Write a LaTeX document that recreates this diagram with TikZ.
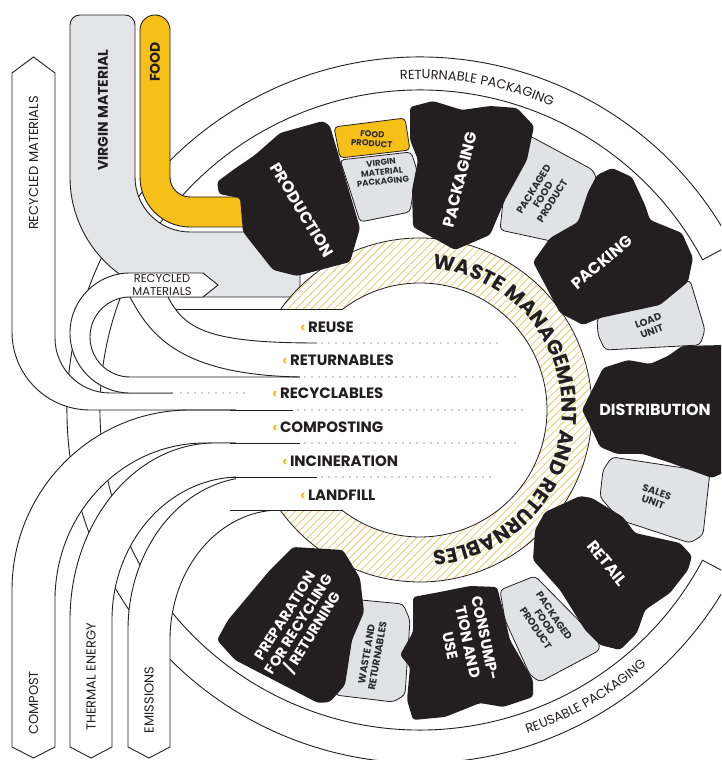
\documentclass[tikz,border=0pt]{standalone}
\usepackage{fontspec}
\setmainfont{Poppins}
\usetikzlibrary{patterns.meta,decorations.text}
\definecolor{foodyellow}{RGB}{246,192,24}
\definecolor{virgingrey}{RGB}{227,228,230}
\definecolor{boxgrey}{RGB}{225,226,229}
\definecolor{inkblack}{RGB}{35,31,32}
\definecolor{hatchyellow}{RGB}{234,200,105}
\definecolor{labelgrey}{RGB}{45,45,48}
\begin{document}
\begin{tikzpicture}[x=1pt,y=1pt,line width=0.9pt,color=inkblack,
  stage/.style={fill=inkblack,rounded corners=3pt},
  stagetext/.style={text=white,font=\fontsize{16}{17}\selectfont\bfseries,align=center,inner sep=0pt},
  greybox/.style={fill=boxgrey,draw=inkblack,line width=0.8pt,rounded corners=4pt},
  boxtext/.style={text=labelgrey,font=\fontsize{10}{11}\selectfont\bfseries,align=center,inner sep=0pt},
  flowtext/.style={text=inkblack,font=\fontsize{13}{14}\selectfont,inner sep=0pt},
  wastetext/.style={text=inkblack,font=\fontsize{15}{16}\selectfont\bfseries,anchor=west,inner sep=0pt},
  dots/.style={draw=labelgrey,line width=1.3pt,line cap=round,dash pattern=on 0pt off 7pt}]
\useasboundingbox (0,0) rectangle (721,760);
\clip (0,0) rectangle (721,760);
\coordinate (C) at (420,350);

\filldraw[fill=white] ([shift={(28:353)}]C) arc[start angle=28,end angle=332,radius=353] -- ([shift={(332:320)}]C) arc[start angle=332,end angle=28,radius=320] -- cycle;

\filldraw[fill=virgingrey] (70,583) arc[start angle=180,end angle=270,radius=120] -- (300,463) -- (300,528) -- (190,528) arc[start angle=270,end angle=180,radius=55] -- (135,735) arc[start angle=0,end angle=90,radius=10] -- (80,745) arc[start angle=90,end angle=180,radius=10] -- cycle;
\filldraw[fill=foodyellow] (140,583) arc[start angle=180,end angle=270,radius=50] -- (260,533) -- (260,563) -- (190,563) arc[start angle=270,end angle=180,radius=20] -- (170,730) arc[start angle=0,end angle=180,radius=15] -- cycle;

\filldraw[fill=white] (12,13) -- (12,170) arc[start angle=180,end angle=90,x radius=178,y radius=180] -- (300,350) -- (300,317) -- (205,317) arc[start angle=90,end angle=180,x radius=150,y radius=157] -- (55,13) -- (33.5,2) -- cycle;
\filldraw[fill=white] (70,13) -- (70,140) arc[start angle=180,end angle=90,x radius=145,y radius=177] -- (300,317) -- (300,283) -- (240,283) arc[start angle=90,end angle=180,x radius=128,y radius=143] -- (112,13) -- (91,2) -- cycle;
\filldraw[fill=white] (128,13) -- (128,130) arc[start angle=180,end angle=90,x radius=127,y radius=153] -- (300,283) -- (300,250) -- (280,250) arc[start angle=90,end angle=180,x radius=110,y radius=130] -- (170,13) -- (149,2) -- cycle;

\fill[white] (12,687) -- (12,428) arc[start angle=180,end angle=270,radius=78] -- (173,350) -- (173,367) -- (110,367) arc[start angle=270,end angle=180,radius=55] -- (55,687) -- (33.5,703) -- cycle;
\draw (173,367) -- (110,367) arc[start angle=270,end angle=180,radius=55] -- (55,687) -- (33.5,703) -- (12,687) -- (12,428) arc[start angle=180,end angle=270,radius=78] -- (300,350);

\fill[white,even odd rule] (C) circle[radius=172] (C) circle[radius=127];
\fill[pattern={Lines[angle=45,distance=5.5pt,line width=0.8pt]},pattern color=hatchyellow,even odd rule] (C) circle[radius=172] (C) circle[radius=127];
\fill[white] (236,250) rectangle (420,451);
\draw[line width=0.8pt] ([shift={(127.3:127)}]C) arc[start angle=127.3,end angle=-128.1,radius=127];
\draw[line width=0.8pt] ([shift={(144:172)}]C) arc[start angle=144,end angle=-144.4,radius=172];

\fill[white] (218,475) -- (203,487) -- (130,487) arc[start angle=90,end angle=270,radius=60] -- (173,367) -- (173,383) -- (130,383) arc[start angle=270,end angle=90,radius=40] -- (203,463) -- cycle;
\draw (173,367) -- (130,367) arc[start angle=270,end angle=90,radius=60] -- (203,487) -- (218,475) -- (203,463) -- (130,463) arc[start angle=90,end angle=270,radius=40] -- (300,383);
\draw (130,463) .. controls (150,425) and (180,385) .. (300,383);
\draw (168,463) .. controls (185,430) and (210,417) .. (317,417);
\draw (176,451) -- (343,451);
\draw (230,350) -- (293,350);
\draw (230,317) -- (300,317);
\draw (230,283) -- (317,283);
\draw (230,250) -- (343,250);

\draw[dots] (322,417) -- (500,417);
\draw[dots] (305,383) -- (517,383);
\draw[dots] (298,350) -- (523,350);
\draw[dots] (305,317) -- (517,317);
\draw[dots] (322,283) -- (497,283);
\draw[dots] (181,367) -- (248,367);

\node[wastetext] (reuse) at (300,433) {\textcolor{foodyellow}{‹}\,REUSE};
\node[wastetext] (returnables) at (282,400) {\textcolor{foodyellow}{‹}\,RETURNABLES};
\node[wastetext] (recyclables) at (272,367) {\textcolor{foodyellow}{‹}\,RECYCLABLES};
\node[wastetext] (composting) at (272,333) {\textcolor{foodyellow}{‹}\,COMPOSTING};
\node[wastetext] (incineration) at (282,299) {\textcolor{foodyellow}{‹}\,INCINERATION};
\node[wastetext] (landfill) at (300,265) {\textcolor{foodyellow}{‹}\,LANDFILL};

\node[flowtext,align=center,font=\fontsize{11.5}{12.5}\selectfont] (recycledin) at (162,475) {RECYCLED\\MATERIALS};
\node[flowtext,rotate=90] (recycledout) at (33.5,597) {RECYCLED MATERIALS};
\node[flowtext,rotate=90] (compost) at (33.5,57) {COMPOST};
\node[flowtext,rotate=90] (thermal) at (91,83) {THERMAL ENERGY};
\node[flowtext,rotate=90] (emissions) at (149,60) {EMISSIONS};
\node[flowtext,rotate=90,font=\fontsize{14}{15}\selectfont\bfseries] (virgin) at (103,650) {VIRGIN MATERIAL};
\node[flowtext,rotate=90,font=\fontsize{14}{15}\selectfont\bfseries] (food) at (155,698) {FOOD};

\filldraw[greybox,fill=foodyellow] (334,633) -- (405,642) -- (410,610) -- (340,602) -- cycle;
\filldraw[greybox] (340,600) -- (411,608) -- (417,590) -- (410,548) -- (360,538) -- (350,570) -- cycle;
\filldraw[greybox] (510,623) -- (530,624) -- (593,590) -- (597,580) -- (575,525) -- (560,517) -- (500,530) -- cycle;
\filldraw[greybox] (597,442) -- (690,480) -- (705,430) -- (700,415) -- (605,410) -- (598,425) -- cycle;
\filldraw[greybox] (603,290) -- (612,303) -- (710,288) -- (703,225) -- (690,217) -- (620,240) -- (600,263) -- cycle;
\filldraw[greybox] (500,170) -- (535,184) -- (598,120) -- (600,110) -- (540,78) -- (530,85) -- (505,140) -- cycle;
\filldraw[greybox] (340,162) -- (403,156) -- (410,140) -- (405,65) -- (393,58) -- (335,65) -- cycle;

\node[boxtext,rotate=-4,font=\fontsize{8.5}{9}\selectfont\bfseries] (foodproduct) at (372,621) {FOOD\\PRODUCT};
\node[boxtext,rotate=6,font=\fontsize{8.5}{9.5}\selectfont\bfseries] (virginpack) at (382,588) {VIRGIN\\MATERIAL\\PACKAGING};
\node[boxtext,rotate=58] (packagedtop) at (543,565) {PACKAGED\\FOOD\\PRODUCT};
\node[boxtext,rotate=20] (loadunit) at (650,434) {LOAD\\UNIT};
\node[boxtext,rotate=-20] (salesunit) at (655,263) {SALES\\UNIT};
\node[boxtext,rotate=-56] (packagedbottom) at (545,138) {PACKAGED\\FOOD\\PRODUCT};
\node[boxtext,rotate=80] (wasteret) at (372,105) {WASTE AND\\RETURNABLES};

\fill[stage] (217,578) -- (233,590) -- (255,605) -- (280,627) -- (323,639) -- (330,634) -- (340,600) -- (360,532) -- (350,498) -- (297,484) -- (273,490) -- (243,528) -- (240,562) -- (219,566) -- cycle;
\fill[stage] (410,653) -- (433,659) -- (462,650) -- (490,654) -- (517,652) -- (534,634) -- (527,600) -- (505,560) -- (490,525) -- (455,510) -- (437,520) -- (413,533) -- (412,570) -- (418,600) -- (410,620) -- cycle;
\fill[stage] (597,585) -- (612,592) -- (632,583) -- (645,555) -- (650,540) -- (682,527) -- (693,502) -- (688,478) -- (660,455) -- (600,442) -- (583,435) -- (560,447) -- (533,498) -- (550,522) -- (578,538) -- (588,568) -- cycle;
\fill[stage] (582,350) -- (592,370) -- (603,392) -- (628,400) -- (650,396) -- (668,404) -- (682,414) -- (725,415) -- (725,288) -- (712,282) -- (668,298) -- (643,306) -- (617,306) -- (600,313) -- (592,330) -- cycle;
\fill[stage] (545,248) -- (580,264) -- (592,262) -- (623,243) -- (635,227) -- (680,217) -- (692,204) -- (688,190) -- (670,167) -- (645,150) -- (637,127) -- (620,110) -- (600,115) -- (585,130) -- (560,170) -- (533,200) -- (535,230) -- cycle;
\fill[stage] (413,163) -- (440,168) -- (470,174) -- (497,173) -- (503,150) -- (510,120) -- (533,80) -- (533,63) -- (503,53) -- (480,57) -- (445,43) -- (413,40) -- (407,60) -- (410,93) -- (400,105) -- (413,128) -- cycle;
\fill[stage] (293,213) -- (343,210) -- (360,182) -- (364,148) -- (352,120) -- (345,75) -- (330,58) -- (318,57) -- (235,100) -- (217,120) -- (228,140) -- (270,190) -- cycle;

\node[stagetext,rotate=-59] (production) at (302,550) {PRODUCTION};
\node[stagetext,rotate=76] (packaging) at (460,580) {PACKAGING};
\node[stagetext,rotate=40] (packing) at (602,498) {PACKING};
\node[stagetext] (distribution) at (655,350) {DISTRIBUTION};
\node[stagetext,rotate=-51] (retail) at (607,197) {RETAIL};
\node[stagetext,font=\fontsize{15}{18}\selectfont\bfseries,rotate=-78] (consumption) at (468,118) {CONSUMP-\\TION AND\\USE};
\node[stagetext,font=\fontsize{14.5}{16}\selectfont\bfseries,rotate=58] (preparation) at (300,135) {PREPARATION\\FOR RECYCLING\\/ RETURNING};

\path[decorate,decoration={text along path,text align=center,text color=inkblack,text={|\fontsize{13}{13}\selectfont|RETURNABLE PACKAGING}}] ([shift={(110:331)}]C) arc[start angle=110,end angle=50,radius=331];
\path[decorate,decoration={text along path,text align=center,text color=inkblack,text={|\fontsize{13}{13}\selectfont|REUSABLE PACKAGING}}] ([shift={(-90:341)}]C) arc[start angle=-90,end angle=-30,radius=341];
\path[decorate,decoration={text along path,text align=center,text color=inkblack,text={|\fontsize{20.5}{20.5}\selectfont\bfseries|WASTE MANAGEMENT AND RETURNABLES}}] ([shift={(100:142)}]C) arc[start angle=100,end angle=-100,radius=142];
\end{tikzpicture}
\end{document}
